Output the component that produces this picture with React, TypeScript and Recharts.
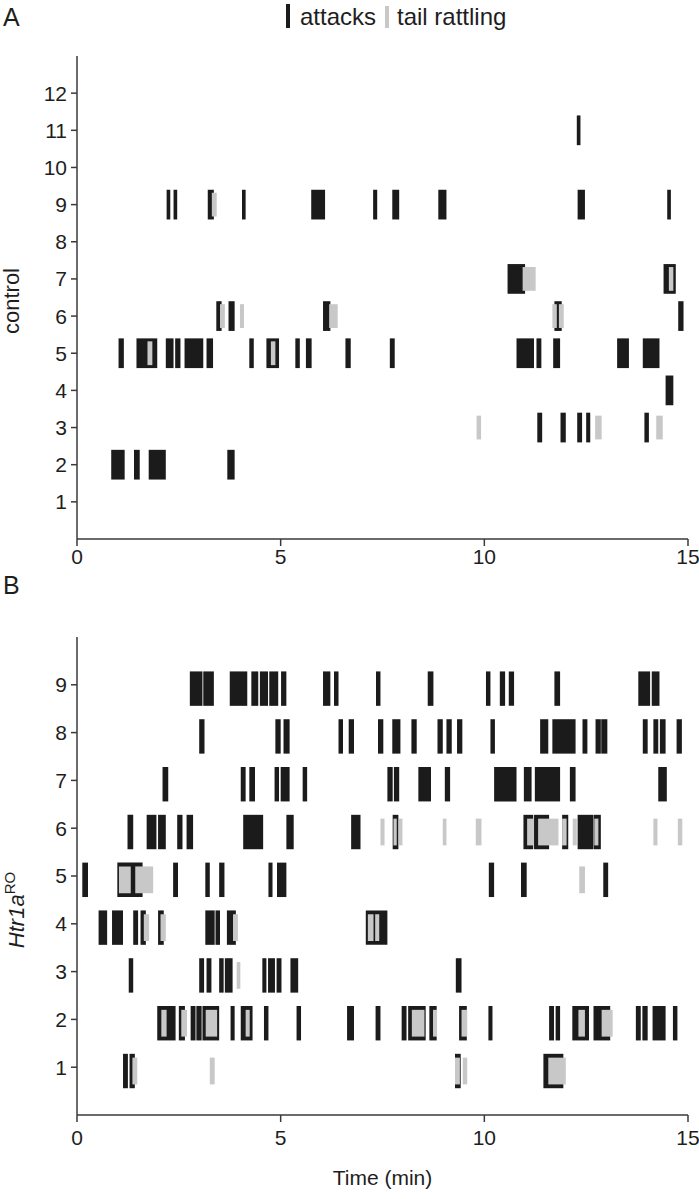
import React from "react";
import { ComposedChart, XAxis, YAxis, ReferenceArea, Scatter } from "recharts";

// each bout: [row, start (min), end (min)]
type Bout = [number, number, number];

const timeTicks = [0, 5, 10, 15];
const controlRows = [1, 2, 3, 4, 5, 6, 7, 8, 9, 10, 11, 12];
const htrRows = [1, 2, 3, 4, 5, 6, 7, 8, 9];

const controlAttacks: Bout[] = [
    [2, 0.84, 1.17], [2, 1.4, 1.54], [2, 1.76, 2.18], [2, 3.69, 3.87],
    [3, 11.3, 11.42], [3, 11.87, 12.0], [3, 12.28, 12.4], [3, 12.5, 12.6], [3, 13.93, 14.04],
    [4, 14.45, 14.64],
    [5, 1.02, 1.15], [5, 1.46, 1.97], [5, 2.18, 2.37], [5, 2.41, 2.54], [5, 2.64, 3.1],
    [5, 3.18, 3.34], [5, 4.23, 4.34], [5, 4.65, 4.96], [5, 5.36, 5.47], [5, 5.62, 5.76],
    [5, 6.59, 6.72], [5, 7.68, 7.8], [5, 10.79, 11.22], [5, 11.28, 11.4], [5, 11.69, 11.86],
    [5, 13.26, 13.55], [5, 13.89, 14.3],
    [6, 3.42, 3.55], [6, 3.72, 3.87], [6, 6.04, 6.22], [6, 11.72, 11.9], [6, 14.76, 14.89],
    [7, 10.57, 11.0], [7, 14.4, 14.7],
    [9, 2.2, 2.29], [9, 2.37, 2.46], [9, 3.21, 3.36], [9, 4.05, 4.14], [9, 5.75, 6.09],
    [9, 7.27, 7.37], [9, 7.74, 7.91], [9, 8.87, 9.07], [9, 12.29, 12.47], [9, 14.49, 14.58],
    [11, 12.27, 12.36],
];

const controlRattling: Bout[] = [
    [3, 9.81, 9.92], [3, 12.72, 12.88], [3, 14.22, 14.38],
    [5, 1.73, 1.85], [5, 4.76, 4.87],
    [6, 3.51, 3.63], [6, 4.0, 4.1], [6, 6.19, 6.4], [6, 11.67, 11.78], [6, 11.83, 11.95],
    [7, 10.94, 11.26], [7, 14.53, 14.64],
    [9, 3.31, 3.43],
];

const htrAttacks: Bout[] = [
    [1, 1.13, 1.25], [1, 1.29, 1.42], [1, 9.28, 9.42], [1, 11.45, 11.94],
    [2, 1.97, 2.42], [2, 2.5, 2.65], [2, 2.79, 2.91], [2, 2.93, 3.06], [2, 3.08, 3.49],
    [2, 3.77, 3.87], [2, 4.02, 4.31], [2, 4.59, 4.7], [2, 5.39, 5.5], [2, 6.63, 6.8],
    [2, 7.33, 7.45], [2, 7.97, 8.09], [2, 8.13, 8.56], [2, 8.65, 8.83], [2, 9.38, 9.57],
    [2, 10.1, 10.2], [2, 11.59, 11.71], [2, 11.75, 11.86], [2, 12.16, 12.57], [2, 12.68, 13.09],
    [2, 13.72, 13.84], [2, 13.88, 14.01], [2, 14.13, 14.45], [2, 14.63, 14.74],
    [3, 1.27, 1.38], [3, 3.0, 3.12], [3, 3.18, 3.3], [3, 3.49, 3.6], [3, 3.63, 3.82],
    [3, 4.55, 4.65], [3, 4.69, 4.86], [3, 4.9, 5.02], [3, 5.24, 5.43], [3, 9.3, 9.44],
    [4, 0.53, 0.74], [4, 0.86, 1.13], [4, 1.38, 1.5], [4, 1.56, 1.69], [4, 1.99, 2.13],
    [4, 3.15, 3.38], [4, 3.4, 3.51], [4, 3.68, 3.9], [4, 7.09, 7.62],
    [5, 0.13, 0.27], [5, 0.99, 1.61], [5, 2.36, 2.48], [5, 3.15, 3.26], [5, 3.49, 3.62],
    [5, 4.7, 4.8], [5, 4.91, 5.14], [5, 10.11, 10.24], [5, 10.9, 11.04], [5, 12.92, 13.04],
    [6, 1.24, 1.38], [6, 1.71, 1.95], [6, 1.99, 2.18], [6, 2.46, 2.59], [6, 2.69, 2.85],
    [6, 4.08, 4.57], [6, 5.14, 5.32], [6, 6.73, 6.96], [6, 7.75, 7.89], [6, 10.96, 11.2],
    [6, 11.22, 11.59], [6, 11.91, 12.06], [6, 12.29, 12.68], [6, 12.69, 12.86],
    [7, 2.1, 2.24], [7, 4.02, 4.14], [7, 4.23, 4.37], [7, 4.85, 4.96], [7, 5.0, 5.22],
    [7, 5.54, 5.65], [7, 7.62, 7.75], [7, 7.78, 7.91], [7, 8.38, 8.69], [7, 9.03, 9.16],
    [7, 10.24, 10.79], [7, 10.97, 11.16], [7, 11.24, 11.86], [7, 12.1, 12.24], [7, 14.27, 14.48],
    [8, 3.0, 3.13], [8, 4.87, 5.0], [8, 5.07, 5.22], [8, 6.42, 6.53], [8, 6.67, 6.8],
    [8, 7.39, 7.52], [8, 7.74, 7.94], [8, 8.21, 8.34], [8, 8.85, 8.98], [8, 9.07, 9.2],
    [8, 9.33, 9.46], [8, 10.15, 10.26], [8, 11.37, 11.57], [8, 11.67, 12.24], [8, 12.41, 12.53],
    [8, 12.73, 12.86], [8, 12.87, 13.02], [8, 13.89, 14.01], [8, 14.15, 14.27], [8, 14.31, 14.45],
    [8, 14.72, 14.85],
    [9, 2.77, 3.08], [9, 3.1, 3.36], [9, 3.75, 4.18], [9, 4.28, 4.45], [9, 4.49, 4.69],
    [9, 4.72, 4.94], [9, 5.01, 5.14], [9, 6.04, 6.22], [9, 6.31, 6.42], [9, 7.34, 7.45],
    [9, 8.61, 8.75], [9, 10.04, 10.15], [9, 10.38, 10.51], [9, 10.6, 10.73], [9, 11.72, 11.86],
    [9, 13.78, 14.07], [9, 14.11, 14.3],
];

const htrRattling: Bout[] = [
    [1, 1.36, 1.48], [1, 3.26, 3.38], [1, 9.28, 9.4], [1, 9.47, 9.58], [1, 11.57, 12.0],
    [2, 2.07, 2.2], [2, 2.56, 2.7], [2, 3.16, 3.44], [2, 4.14, 4.24], [2, 8.22, 8.53],
    [2, 8.74, 8.84], [2, 9.44, 9.58], [2, 12.31, 12.47], [2, 12.88, 13.15],
    [3, 3.92, 4.01],
    [4, 1.64, 1.77], [4, 2.05, 2.18], [4, 3.83, 3.95], [4, 7.14, 7.28], [4, 7.32, 7.42],
    [5, 1.03, 1.32], [5, 1.43, 1.87], [5, 12.33, 12.47],
    [6, 7.45, 7.55], [6, 7.77, 7.85], [6, 7.9, 7.99], [6, 8.98, 9.07], [6, 9.79, 9.93],
    [6, 11.05, 11.21], [6, 11.32, 11.82], [6, 11.91, 12.02], [6, 12.17, 12.27], [6, 12.7, 12.8],
    [6, 14.15, 14.25], [6, 14.75, 14.86],
];

const BLACK = "#1b1b1b";
const GREY = "#c8c8c8";
const AXIS = "#3a3a3a";
const TXT = "#1e1e1e";
const FONT = "'Liberation Sans', Arial, sans-serif";

const tickStyle = { fill: TXT, fontSize: 21, fontFamily: FONT };
const lineStyle = { stroke: AXIS, strokeWidth: 1.5 };

// bout onsets as points, so the chart has data to scale against
const toPoints = (list: Bout[]) => list.map(([row, start]) => ({ t: start, row }));

function drawBouts(list: Bout[], half: number, shift: number, fill: string, key: string) {
    return list.map(([row, start, end], i) => (
        <ReferenceArea
            key={key + i}
            x1={start}
            x2={end}
            y1={row + shift - half}
            y2={row + shift + half}
            fill={fill}
            fillOpacity={1}
            stroke="none"
            ifOverflow="visible"
        />
    ));
}

const abs = (left: number, top: number): React.CSSProperties => ({
    position: "absolute",
    left,
    top,
    fontFamily: FONT,
    color: TXT,
    lineHeight: 1,
    whiteSpace: "nowrap",
});

export default function App() {
    return (
        <div style={{ position: "absolute", left: 0, top: 0, width: 699, height: 1199, background: "#fff" }}>
            <div style={{ ...abs(3, 5), fontSize: 25 }}>A</div>
            <div style={{ ...abs(3, 573), fontSize: 25 }}>B</div>

            {/* legend */}
            <div style={{ ...abs(286, 4), width: 4, height: 24, background: BLACK }} />
            <div style={{ ...abs(300, 5), fontSize: 24 }}>attacks</div>
            <div style={{ ...abs(385, 6), width: 4, height: 22, background: GREY }} />
            <div style={{ ...abs(397, 5), fontSize: 24 }}>tail rattling</div>

            <div style={{ position: "absolute", left: 0, top: 0 }}>
                <ComposedChart
                    width={699}
                    height={580}
                    data={toPoints(controlAttacks)}
                    margin={{ top: 56, right: 11, bottom: 0, left: 0 }}
                >
                    <XAxis
                        type="number"
                        dataKey="t"
                        domain={[0, 15]}
                        ticks={timeTicks}
                        interval={0}
                        allowDataOverflow
                        height={41}
                        tickSize={7}
                        tickMargin={3}
                        axisLine={lineStyle}
                        tickLine={lineStyle}
                        tick={tickStyle}
                    />
                    <YAxis
                        type="number"
                        dataKey="row"
                        domain={[0, 13]}
                        ticks={controlRows}
                        interval={0}
                        allowDataOverflow
                        width={77}
                        tickSize={6}
                        tickMargin={4}
                        axisLine={lineStyle}
                        tickLine={lineStyle}
                        tick={tickStyle}
                    />
                    <Scatter dataKey="row" shape={() => null} isAnimationActive={false} />
                    {drawBouts(controlAttacks, 0.4, 0, BLACK, "ca")}
                    {drawBouts(controlRattling, 0.32, 0, GREY, "cr")}
                </ComposedChart>
            </div>

            <div style={{ position: "absolute", left: 0, top: 600 }}>
                <ComposedChart
                    width={699}
                    height={599}
                    data={toPoints(htrAttacks)}
                    margin={{ top: 37, right: 11, bottom: 0, left: 0 }}
                >
                    <XAxis
                        type="number"
                        dataKey="t"
                        domain={[0, 15]}
                        ticks={timeTicks}
                        interval={0}
                        allowDataOverflow
                        height={84}
                        tickSize={7}
                        tickMargin={8}
                        axisLine={lineStyle}
                        tickLine={lineStyle}
                        tick={tickStyle}
                        label={{ value: "Time (min)", position: "insideBottom", offset: 14, fill: TXT, fontSize: 21, fontFamily: FONT }}
                    />
                    <YAxis
                        type="number"
                        dataKey="row"
                        domain={[0, 10]}
                        ticks={htrRows}
                        interval={0}
                        allowDataOverflow
                        width={77}
                        tickSize={6}
                        tickMargin={4}
                        axisLine={lineStyle}
                        tickLine={lineStyle}
                        tick={tickStyle}
                    />
                    <Scatter dataKey="row" shape={() => null} isAnimationActive={false} />
                    {drawBouts(htrAttacks, 0.36, -0.08, BLACK, "ha")}
                    {drawBouts(htrRattling, 0.28, -0.08, GREY, "hr")}
                </ComposedChart>
            </div>

            <div
                style={{
                    ...abs(12, 301),
                    fontSize: 22,
                    transform: "translate(-50%, -50%) rotate(-90deg)",
                }}
            >
                control
            </div>
            <div
                style={{
                    ...abs(15, 910),
                    fontSize: 22,
                    transform: "translate(-50%, -50%) rotate(-90deg)",
                }}
            >
                <span style={{ fontStyle: "italic" }}>Htr1a</span>
                <sup style={{ fontSize: 15 }}>RO</sup>
            </div>
        </div>
    );
}
